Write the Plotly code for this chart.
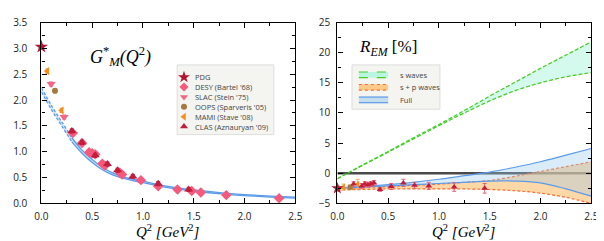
import plotly.graph_objects as go

W, H = 604, 241

# ---------------- Left panel data: G_M*(Q^2) ----------------
pdg_q2 = [0.0]
pdg_g = [3.03]
desy_q2 = [0.31, 0.40, 0.47, 0.50, 0.53, 0.60, 0.625, 0.775, 0.795, 0.98, 1.15, 1.34, 1.48, 1.57, 1.82, 2.34]
desy_g = [1.36, 1.17, 0.99, 0.97, 0.95, 0.77, 0.73, 0.59, 0.56, 0.45, 0.33, 0.27, 0.24, 0.21, 0.16, 0.10]
slac_q2 = [0.096, 0.224]
slac_g = [2.31, 1.67]
oops_q2 = [0.134]
oops_g = [2.18]
mami_q2 = [0.058, 0.20]
mami_g = [2.56, 1.80]
clas_q2 = [0.30, 0.40, 0.53, 0.65, 0.75, 0.90, 1.15, 1.45]
clas_g = [1.40, 1.18, 0.93, 0.76, 0.64, 0.52, 0.38, 0.27]

gm_q2 = [0.0, 0.1, 0.2, 0.3, 0.4, 0.5, 0.6, 0.7, 0.8, 1.0, 1.2, 1.5, 1.8, 2.1, 2.5]
gm_up = [2.24, 1.89, 1.58, 1.27, 1.03, 0.85, 0.70, 0.59, 0.52, 0.43, 0.345, 0.26, 0.20, 0.16, 0.12]
gm_lo = [2.16, 1.81, 1.50, 1.19, 0.97, 0.79, 0.65, 0.55, 0.49, 0.40, 0.32, 0.24, 0.18, 0.14, 0.10]
gm_dash_end = 3  # curve dashed up to Q2 = 0.3

# ---------------- Right panel data: R_EM [%] ----------------
r_q2 = [0.0, 0.25, 0.5, 0.75, 1.0, 1.25, 1.5, 1.75, 2.0, 2.25, 2.5]
s_up = [-0.9, 1.4, 3.6, 5.9, 8.1, 10.4, 12.8, 15.1, 17.4, 19.6, 21.8]
s_lo = [-0.9, 1.3, 3.5, 5.7, 7.9, 10.0, 12.0, 13.7, 15.0, 16.0, 16.7]
sp_up = [-2.6, -2.4, -2.2, -2.0, -1.8, -1.5, -1.2, -0.5, 0.3, 1.1, 1.9]
sp_lo = [-2.8, -2.7, -2.6, -2.6, -2.6, -2.6, -2.7, -2.9, -3.3, -4.0, -5.0]
full_up = [-2.4, -2.2, -1.9, -1.5, -1.0, -0.4, 0.2, 1.0, 1.9, 3.0, 4.1]
full_lo = [-2.5, -2.3, -2.1, -1.9, -1.7, -1.5, -1.3, -1.3, -1.6, -2.6, -3.8]

r_pdg_q2 = [0.0]
r_pdg = [-2.5]
r_pdg_err = [0.5]
r_mami_q2 = [0.06, 0.20]
r_mami = [-2.3, -1.8]
r_mami_err = [0.5, 0.8]
r_oops_q2 = [0.127]
r_oops = [-2.3]
r_oops_err = [0.3]
r_clas_q2 = [0.16, 0.24, 0.27, 0.30, 0.33, 0.36, 0.42, 0.53, 0.65, 0.76, 0.90, 1.15, 1.45]
r_clas = [-1.8, -2.1, -1.8, -1.9, -1.8, -1.6, -2.7, -2.2, -1.6, -2.0, -2.1, -2.3, -2.5]
r_clas_err = [0.4, 0.4, 0.4, 0.4, 0.4, 0.4, 0.3, 0.5, 0.6, 0.5, 0.6, 0.7, 0.8]

left_legend = ["PDG", "DESY (Bartel '68)", "SLAC (Stein '75)", "OOPS (Sparveris '05)",
               "MAMI (Stave '08)", "CLAS (Aznauryan '09)"]
right_legend = ["s waves", "s + p waves", "Full"]

C_PDG = "#b3142f"
C_DESY = "#f55a7c"
C_SLAC = "#f36485"
C_OOPS = "#a6793e"
C_MAMI = "#f78c1c"
C_CLAS = "#c41d3c"
C_BLUE = "#5b9bea"
C_GREEN = "#44cc22"
C_ORANGE = "#ff6a30"

fig = go.Figure()

def px_x(p):
    return p / W

def px_y(p):
    return 1 - p / H

# ---------- left panel band ----------
q_d = gm_q2[:gm_dash_end + 1]
q_s = gm_q2[gm_dash_end:]
fig.add_trace(go.Scatter(x=gm_q2, y=gm_up, mode="lines", line=dict(width=0, shape="spline"),
                         xaxis="x", yaxis="y", showlegend=False, hoverinfo="skip"))
fig.add_trace(go.Scatter(x=gm_q2, y=gm_lo, mode="lines", line=dict(width=0, shape="spline"),
                         fill="tonexty", fillcolor="rgba(160,205,245,0.55)",
                         xaxis="x", yaxis="y", showlegend=False, hoverinfo="skip"))
for arr in (gm_up, gm_lo):
    fig.add_trace(go.Scatter(x=q_d, y=arr[:gm_dash_end + 1], mode="lines",
                             line=dict(color=C_BLUE, width=1.3, dash="3px,2px", shape="spline"),
                             xaxis="x", yaxis="y", showlegend=False))
    fig.add_trace(go.Scatter(x=q_s, y=arr[gm_dash_end:], mode="lines",
                             line=dict(color=C_BLUE, width=1.3, shape="spline"),
                             xaxis="x", yaxis="y", showlegend=False))

def pts(xs, ys, sym, col, size, ax="x", ay="y", err=None, errcol=None):
    e = dict(type="data", array=err if err is not None else [0.04] * len(ys),
             color=errcol or col, thickness=1, width=2)
    fig.add_trace(go.Scatter(x=xs, y=ys, mode="markers", cliponaxis=False,
                             marker=dict(symbol=sym, color=col, size=size, line=dict(width=0)),
                             error_y=e, xaxis=ax, yaxis=ay, showlegend=False))

pts(desy_q2, desy_g, "diamond", C_DESY, 8)
pts(slac_q2, slac_g, "triangle-down", C_SLAC, 8)
pts(oops_q2, oops_g, "circle", C_OOPS, 6)
pts(mami_q2, mami_g, "triangle-left", C_MAMI, 7)
pts(clas_q2, clas_g, "triangle-up", C_CLAS, 8)
pts(pdg_q2, pdg_g, "star", C_PDG, 10)

# ---------- right panel ----------
fig.add_trace(go.Scatter(x=[0, 2.5], y=[0, 0], mode="lines", line=dict(color="#4a4a4a", width=2.5),
                         xaxis="x2", yaxis="y2", showlegend=False, hoverinfo="skip"))

def band(up, lo, col, fillc, dash, width=1.2):
    fig.add_trace(go.Scatter(x=r_q2, y=up, mode="lines", line=dict(color=col, width=width, dash=dash, shape="spline"),
                             xaxis="x2", yaxis="y2", showlegend=False))
    fig.add_trace(go.Scatter(x=r_q2, y=lo, mode="lines", line=dict(color=col, width=width, dash=dash, shape="spline"),
                             fill="tonexty", fillcolor=fillc, xaxis="x2", yaxis="y2", showlegend=False))

band(s_up, s_lo, C_GREEN, "rgba(160,245,215,0.45)", "4px,2px")
band(sp_up, sp_lo, C_ORANGE, "rgba(255,190,110,0.6)", "3px,2px")
band(full_up, full_lo, C_BLUE, "rgba(150,200,235,0.35)", "solid")

pts(r_oops_q2, r_oops, "square", C_OOPS, 5, "x2", "y2", r_oops_err)
pts(r_mami_q2, r_mami, "triangle-left", C_MAMI, 6, "x2", "y2", r_mami_err, "#f8a860")
pts(r_clas_q2, r_clas, "triangle-up", C_CLAS, 6, "x2", "y2", r_clas_err, "#e06478")
pts(r_pdg_q2, r_pdg, "star", C_PDG, 9, "x2", "y2", r_pdg_err, "#e06478")

# ---------- custom legends (overlay pixel axes) ----------
shapes = []
annotations = []
legfont = dict(family="Open Sans", size=7.5, color="#444")
# left legend box
shapes.append(dict(type="rect", xref="paper", yref="paper", x0=px_x(166), x1=px_x(265),
                   y0=px_y(127), y1=px_y(53), fillcolor="#f4f4f0", line=dict(color="#dddddd", width=1),
                   layer="below"))
leg_syms = ["star", "diamond", "triangle-down", "circle", "triangle-left", "triangle-up"]
leg_cols = [C_PDG, C_DESY, C_SLAC, C_OOPS, C_MAMI, C_CLAS]
leg_sizes = [9, 7, 7, 6, 7, 7]
row0, drow = 66, 10.5
for i, name in enumerate(left_legend):
    yy = row0 + i * drow
    fig.add_trace(go.Scatter(x=[173], y=[yy], mode="markers", xaxis="x3", yaxis="y3",
                             marker=dict(symbol=leg_syms[i], color=leg_cols[i], size=leg_sizes[i], line=dict(width=0)),
                             showlegend=False, hoverinfo="skip"))
    annotations.append(dict(text=name, x=px_x(182), y=px_y(yy), xref="paper", yref="paper",
                            xanchor="left", yanchor="middle", showarrow=False, font=legfont))

# right legend box
shapes.append(dict(type="rect", xref="paper", yref="paper", x0=px_x(345), x1=px_x(435),
                   y0=px_y(100), y1=px_y(53), fillcolor="#f4f4f0", line=dict(color="#dddddd", width=1),
                   layer="below"))
r_leg_lines = [C_GREEN, C_ORANGE, C_BLUE]
r_leg_fill = ["rgba(160,245,215,0.7)", "rgba(255,190,110,0.8)", "rgba(150,200,235,0.5)"]
r_leg_dash = ["dash", "dot", "solid"]
rrow0, rdrow = 63.5, 13.3
for i, name in enumerate(right_legend):
    yy = rrow0 + i * rdrow
    shapes.append(dict(type="rect", xref="paper", yref="paper", x0=px_x(352), x1=px_x(382),
                       y0=px_y(yy + 3), y1=px_y(yy - 3), fillcolor=r_leg_fill[i], line=dict(width=0),
                       layer="below"))
    for dy in (-3, 3):
        shapes.append(dict(type="line", xref="paper", yref="paper", x0=px_x(352), x1=px_x(382),
                           y0=px_y(yy + dy), y1=px_y(yy + dy),
                           line=dict(color=r_leg_lines[i], width=1.2, dash=r_leg_dash[i]), layer="below"))
    annotations.append(dict(text=name, x=px_x(392), y=px_y(yy), xref="paper", yref="paper",
                            xanchor="left", yanchor="middle", showarrow=False, font=legfont))

# titles
serif = "Liberation Serif"
annotations.append(dict(text="<i>G</i><sup>*</sup><sub><i>M</i></sub><i>(Q</i><sup>2</sup><i>)</i>",
                        x=px_x(75), y=px_y(44), xref="paper", yref="paper", xanchor="left", yanchor="middle",
                        showarrow=False, font=dict(family=serif, size=18, color="black")))
annotations.append(dict(text="<i>R<sub>EM</sub></i> [%]",
                        x=px_x(350), y=px_y(35), xref="paper", yref="paper", xanchor="left", yanchor="middle",
                        showarrow=False, font=dict(family=serif, size=17, color="black")))
for cx in (157, 460):
    annotations.append(dict(text="<i>Q</i><sup>2</sup> <i>[GeV</i><sup>2</sup><i>]</i>",
                            x=px_x(cx), y=px_y(229), xref="paper", yref="paper", xanchor="center",
                            yanchor="middle", showarrow=False, font=dict(family=serif, size=15, color="black")))

tickfont = dict(family="Open Sans", size=10, color="#222")

def axis(domain, rng, dtick, mdtick, anchor, standoff, fmt):
    return dict(domain=domain, range=rng, dtick=dtick, tick0=0, anchor=anchor, showline=True,
                linecolor="black", linewidth=1.3, mirror="ticks", ticks="inside", ticklen=5,
                tickwidth=1, tickcolor="black", showgrid=False, zeroline=False,
                minor=dict(dtick=mdtick, ticks="inside", ticklen=3, tickwidth=1, tickcolor="black", showgrid=False),
                tickfont=tickfont, ticklabelstandoff=standoff, tickformat=fmt, fixedrange=True)

ydom = [px_y(200), px_y(8)]
fig.update_layout(
    width=W, height=H, margin=dict(l=0, r=0, t=0, b=0),
    paper_bgcolor="white", plot_bgcolor="rgba(0,0,0,0)",
    showlegend=False,
    xaxis=axis([px_x(27), px_x(287)], [0, 2.5], 0.5, 0.25, "y", 3, ".1f"),
    yaxis=axis(ydom, [0, 3.5], 0.5, 0.25, "x", 11, ".1f"),
    xaxis2=axis([px_x(330), px_x(590)], [0, 2.5], 0.5, 0.25, "y2", 3, ".1f"),
    yaxis2=axis(ydom, [-5, 25], 5, 2.5, "x2", 4, "d"),
    xaxis3=dict(domain=[0, 1], range=[0, W], visible=False, anchor="y3", fixedrange=True),
    yaxis3=dict(domain=[0, 1], range=[H, 0], visible=False, anchor="x3", fixedrange=True),
    shapes=shapes, annotations=annotations,
)

fig.write_html("out.html")
